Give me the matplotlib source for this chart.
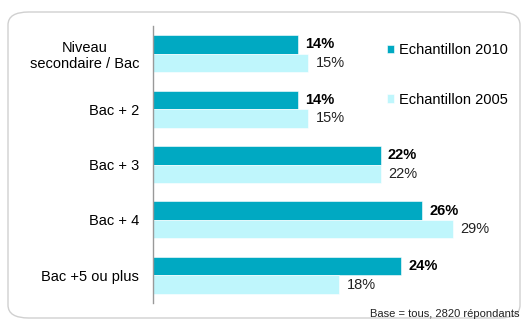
import matplotlib
matplotlib.use("Agg")
import matplotlib.pyplot as plt
from matplotlib.patches import FancyBboxPatch
import numpy as np

plt.rcParams["font.family"] = ["Liberation Sans", "DejaVu Sans"]

# ------------------------------
# Data
# ------------------------------
categories = ["Niveau\nsecondaire / Bac", "Bac + 2", "Bac + 3", "Bac + 4", "Bac +5 ou plus"]
values_2010 = [14, 14, 22, 26, 24]
values_2005 = [15, 15, 22, 29, 18]
series_names = ["Echantillon 2010", "Echantillon 2005"]
footnote = "Base = tous, 2820 répondants"

color_2010 = "#00A9C2"
color_2005 = "#BFF6FC"

# ------------------------------
# Figure
# ------------------------------
fig = plt.figure(figsize=(5.21, 3.22), dpi=100)
ax = fig.add_axes([153 / 521, 19 / 322, 362 / 521, 277 / 322])

y = np.arange(len(categories))
h = 0.335

bars_2010 = ax.barh(y - h / 2, values_2010, height=h, color=color_2010,
                    edgecolor="white", linewidth=0.4, label=series_names[0])
bars_2005 = ax.barh(y + h / 2, values_2005, height=h, color=color_2005,
                    edgecolor="white", linewidth=0.4, label=series_names[1])

for yy, v in zip(y, values_2010):
    ax.text(v + 0.7, yy - h / 2, f"{v}%", va="center", ha="left",
            fontsize=10.5, fontweight="bold", color="black")
for yy, v in zip(y, values_2005):
    ax.text(v + 0.7, yy + h / 2, f"{v}%", va="center", ha="left",
            fontsize=10.5, color="#222222")

ax.set_xlim(0, 35)
ax.set_ylim(len(categories) - 0.5, -0.5)
ax.set_yticks(y)
ax.set_yticklabels(categories, fontsize=10.5, multialignment="center")
ax.tick_params(axis="y", length=0, pad=10)
ax.set_xticks([])
for s in ["top", "right", "bottom"]:
    ax.spines[s].set_visible(False)
ax.spines["left"].set_color("#999999")
ax.spines["left"].set_linewidth(1)

# legend
fig.legend(handles=[bars_2010, bars_2005], labels=series_names,
           loc="upper left", bbox_to_anchor=(381 / 521, 1 - 37 / 322),
           frameon=False, fontsize=10.5, handlelength=0.5, handleheight=0.5,
           handletextpad=0.35, labelspacing=2.45, borderaxespad=0)

fig.text(519 / 521, 1 - 314 / 322, footnote, ha="right", va="center",
         fontsize=8, color="#222222")

# rounded frame
frame = FancyBboxPatch((8 / 521, 4 / 322), 512 / 521, 306 / 322,
                       boxstyle="round,pad=0,rounding_size=0.04",
                       transform=fig.transFigure, facecolor="none",
                       edgecolor="#D0D0D0", linewidth=1, zorder=-1)
fig.patches.append(frame)

fig.savefig("out.png", dpi=100)
